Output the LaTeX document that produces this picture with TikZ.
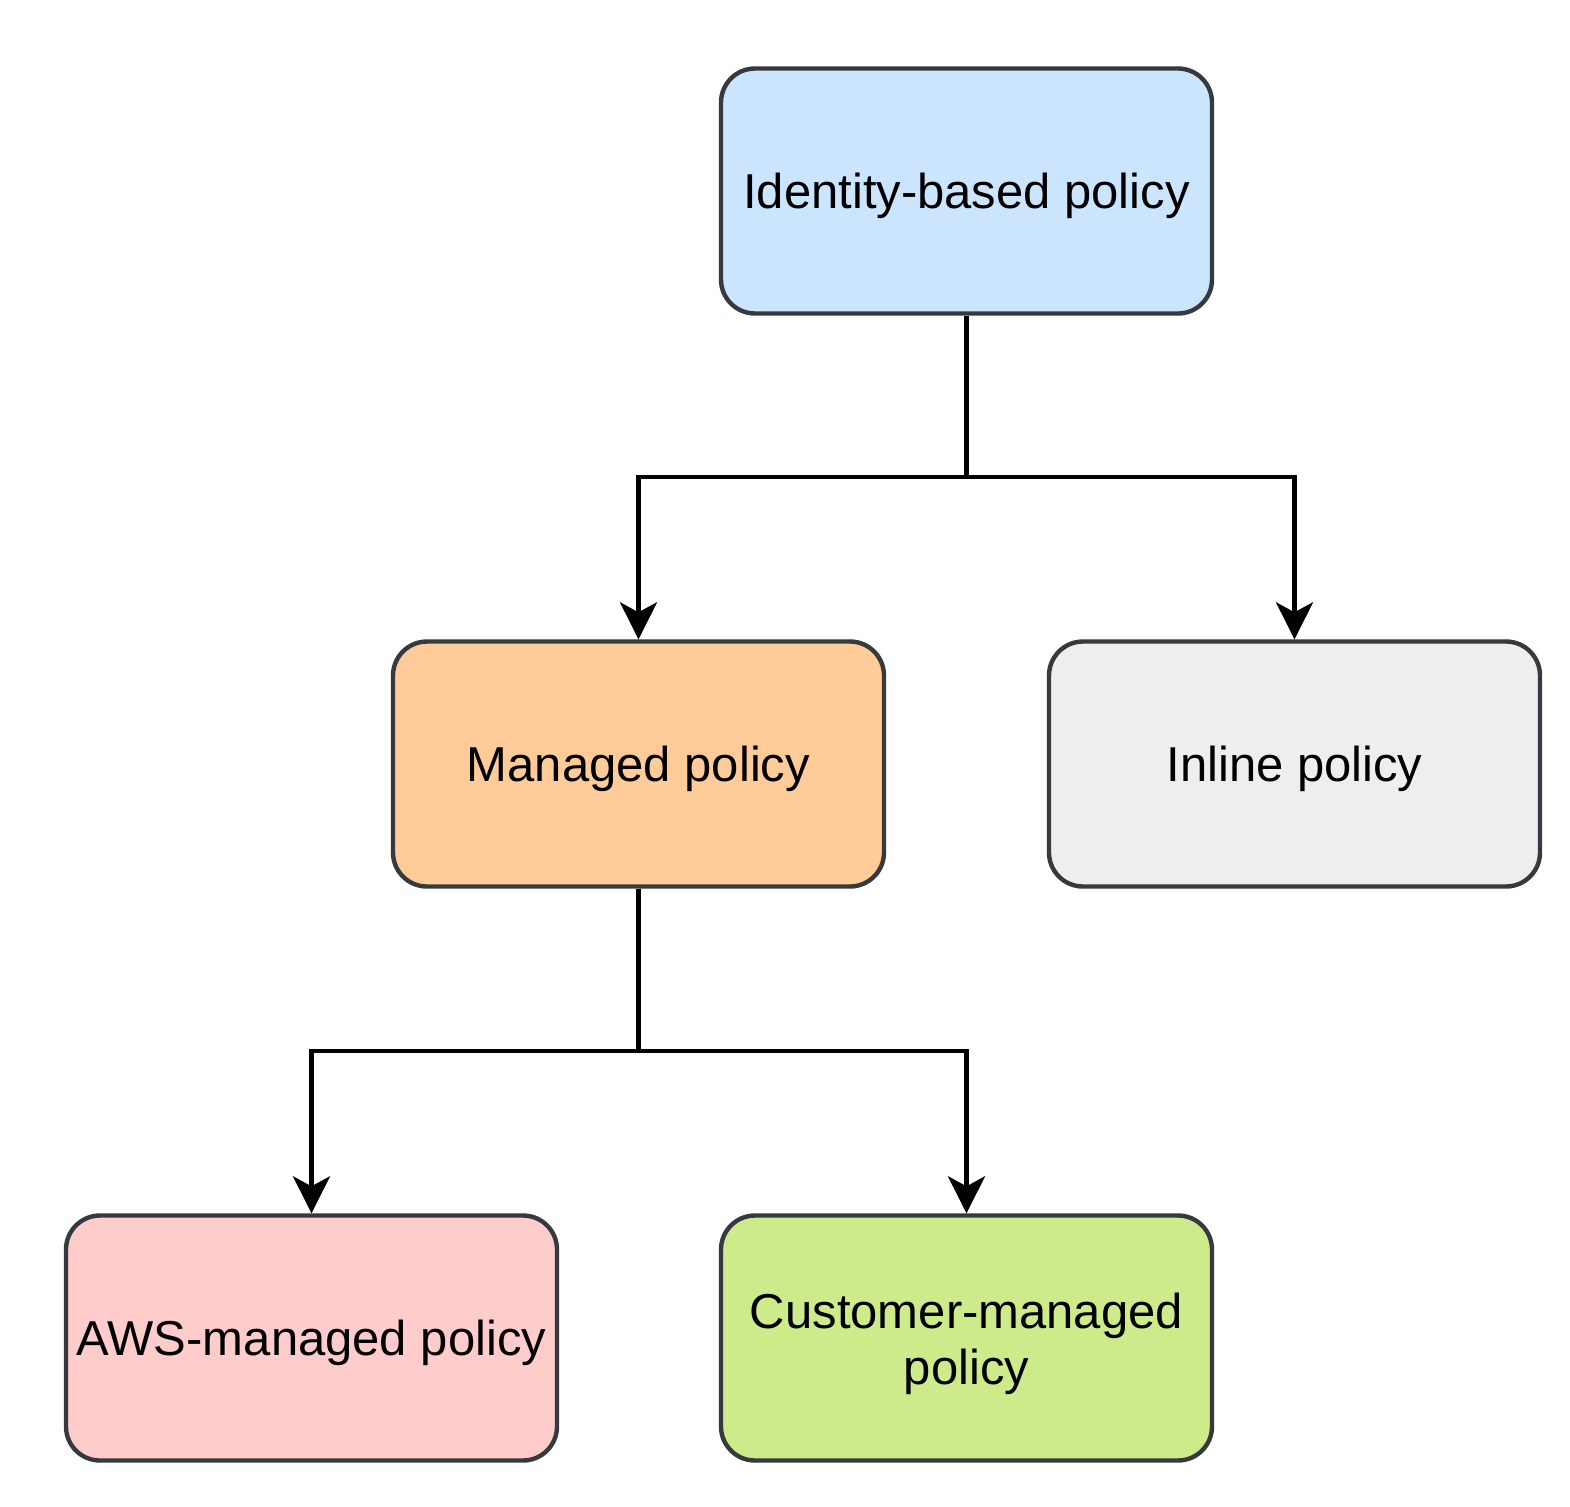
\documentclass[tikz,border=0pt]{standalone}
\usepackage{fontspec}
\setmainfont{Liberation Sans}
\usetikzlibrary{arrows.meta}
\definecolor{strokec}{HTML}{36393D}
\definecolor{bluef}{HTML}{CCE5FF}
\definecolor{orangef}{HTML}{FFCC99}
\definecolor{grayf}{HTML}{EEEEEE}
\definecolor{redf}{HTML}{FFCCCC}
\definecolor{greenf}{HTML}{CDEB8B}
\newcommand\lowtext[2][-2.6pt]{\raisebox{#1}[\height][\depth]{#2}}
\tikzset{
  policybox/.style={draw=strokec, line width=2.2pt, rounded corners=17pt,
    minimum width=245.5pt, minimum height=122.5pt, inner sep=0pt,
    align=center, font=\fontsize{24.5pt}{29.4pt}\selectfont, text=black},
  conn/.style={draw=black, line width=2.3pt,
    -{Stealth[length=18.5pt, width=18.5pt, inset=5pt]}},
}
\begin{document}
\begin{tikzpicture}[x=0.5pt, y=-0.5pt]
\useasboundingbox (0,0) rectangle (1570,1506);
\node[policybox, fill=bluef] (idp) at (966.5,191) {\lowtext{Identity-based policy}};
\node[policybox, fill=orangef] (mp) at (638.5,764) {\lowtext{Managed policy}};
\node[policybox, fill=grayf] (ip) at (1294.5,764) {\lowtext{Inline policy}};
\node[policybox, fill=redf] (awsp) at (311.5,1338) {\lowtext{AWS-managed policy}};
\node[policybox, fill=greenf] (cmp) at (966.5,1338) {\lowtext[-3.4pt]{\begin{tabular}{@{}c@{}}Customer-managed\\[-1.5pt]policy\end{tabular}}};
\coordinate (j1) at (966.5,477);
\coordinate (j2) at (638.5,1051);
\draw[conn] (idp.south) -- (j1) -| (mp.north);
\draw[conn] (idp.south) -- (j1) -| (ip.north);
\draw[conn] (mp.south) -- (j2) -| (awsp.north);
\draw[conn] (mp.south) -- (j2) -| (cmp.north);
\end{tikzpicture}
\end{document}
